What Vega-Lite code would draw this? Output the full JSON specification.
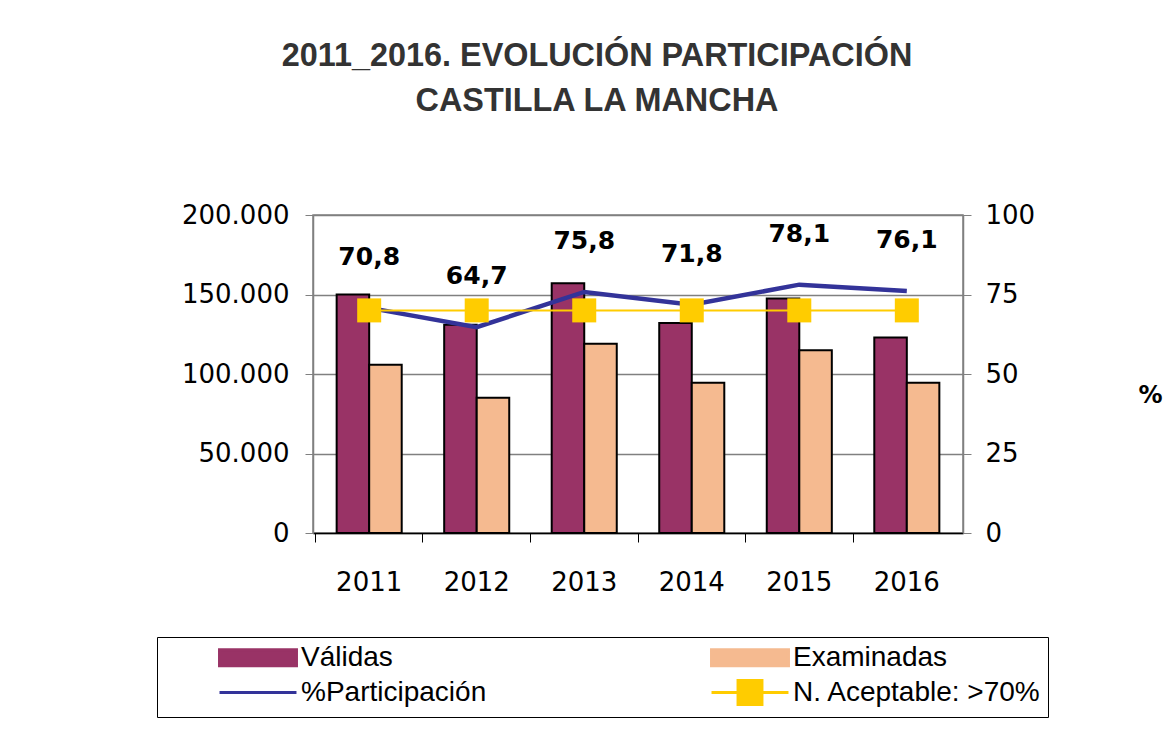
{
  "$schema": "https://vega.github.io/schema/vega-lite/v6.json",
  "width": 650,
  "height": 318,
  "autosize": {"type": "none"},
  "padding": {"left": 313, "top": 215, "right": 210, "bottom": 203},
  "background": "white",
  "config": {
    "locale": {"number": {"decimal": ",", "thousands": ".", "grouping": [3], "currency": ["", " €"]}},
    "view": {"stroke": "#808080", "strokeWidth": 1.5},
    "axis": {"labelFont": "DejaVu Sans", "labelFontSize": 26, "labelColor": "black"},
    "legend": {"symbolOpacity": 1}
  },
  "title": {
    "text": ["2011_2016. EVOLUCIÓN PARTICIPACIÓN", "CASTILLA LA MANCHA"],
    "font": "Liberation Sans",
    "fontSize": 32.4,
    "fontWeight": "bold",
    "color": "#333333",
    "lineHeight": 45,
    "anchor": "middle",
    "frame": "group",
    "dx": -41,
    "offset": 85
  },
  "datasets": {
    "barras": [
      {"año": "2011", "serie": "Válidas", "valor": 150000},
      {"año": "2011", "serie": "Examinadas", "valor": 105800},
      {"año": "2012", "serie": "Válidas", "valor": 131000},
      {"año": "2012", "serie": "Examinadas", "valor": 85000},
      {"año": "2013", "serie": "Válidas", "valor": 157000},
      {"año": "2013", "serie": "Examinadas", "valor": 119000},
      {"año": "2014", "serie": "Válidas", "valor": 132000},
      {"año": "2014", "serie": "Examinadas", "valor": 94500},
      {"año": "2015", "serie": "Válidas", "valor": 147500},
      {"año": "2015", "serie": "Examinadas", "valor": 115000},
      {"año": "2016", "serie": "Válidas", "valor": 123000},
      {"año": "2016", "serie": "Examinadas", "valor": 94500}
    ],
    "lineas": [
      {"año": "2011", "participacion": 70.8, "aceptable": 70},
      {"año": "2012", "participacion": 64.7, "aceptable": 70},
      {"año": "2013", "participacion": 75.8, "aceptable": 70},
      {"año": "2014", "participacion": 71.8, "aceptable": 70},
      {"año": "2015", "participacion": 78.1, "aceptable": 70},
      {"año": "2016", "participacion": 76.1, "aceptable": 70}
    ]
  },
  "encoding": {
    "x": {
      "field": "año", "type": "nominal",
      "scale": {"paddingInner": 0.395, "paddingOuter": 0.22},
      "axis": {
        "title": null, "labelAngle": 0, "domainColor": "black", "domainWidth": 1.5,
        "tickColor": "black", "tickSize": 9, "bandPosition": -0.326,
        "labelPadding": 27, "labelBaseline": "top"
      }
    }
  },
  "resolve": {"scale": {"y": "independent"}},
  "layer": [
    {
      "data": {"name": "barras"},
      "mark": {"type": "bar", "stroke": "black", "strokeWidth": 2},
      "encoding": {
        "xOffset": {"field": "serie", "type": "nominal", "sort": ["Válidas", "Examinadas"], "scale": {"paddingInner": 0, "paddingOuter": 0}},
        "y": {
          "field": "valor", "type": "quantitative",
          "scale": {"domain": [0, 200000], "nice": false},
          "axis": {
            "title": null, "orient": "left", "values": [0, 50000, 100000, 150000, 200000],
            "format": ",.0f", "grid": true, "gridColor": "#808080", "gridWidth": 1.5,
            "domainColor": "#808080", "domainWidth": 1.5, "tickColor": "#808080", "tickSize": 8,
            "labelPadding": 16
          }
        },
        "color": {
          "field": "serie", "type": "nominal",
          "scale": {
            "domain": ["Válidas", "Examinadas", "%Participación", "N. Aceptable: >70%"],
            "range": ["#993366", "#F5BA90", "#333399", "#FFCC00"]
          },
          "legend": {
            "title": null, "orient": "none", "legendX": -156, "legendY": 422,
            "direction": "horizontal", "columns": 2, "columnPadding": 168, "rowPadding": 2,
            "padding": 6, "strokeColor": "black", "fillColor": "white",
            "symbolOffset": 80.5, "symbolSize": 676, "symbolStrokeWidth": 3, "symbolOpacity": 1, "labelOffset": 28.5,
            "labelFont": "Liberation Sans", "labelFontSize": 28, "labelColor": "black", "labelLimit": 400
          }
        }
      }
    },
    {
      "data": {"name": "barras"},
      "mark": {"type": "point", "filled": true, "opacity": 0},
      "encoding": {
        "color": {"field": "serie", "type": "nominal"},
        "shape": {
          "field": "serie", "type": "nominal",
          "scale": {
            "domain": ["Válidas", "Examinadas", "%Participación", "N. Aceptable: >70%"],
            "range": ["M-2.96,-0.62L2.96,-0.62L2.96,0.62L-2.96,0.62Z", "M-2.96,-0.62L2.96,-0.62L2.96,0.62L-2.96,0.62Z", "M-2.96,0L2.96,0", "M-2.96,0L2.96,0M-0.92,-0.92L0.92,-0.92L0.92,0.92L-0.92,0.92Z"]
          },
          "legend": {
            "title": null, "orient": "none", "legendX": -156, "legendY": 422,
            "direction": "horizontal", "columns": 2, "columnPadding": 168, "rowPadding": 2,
            "padding": 6, "strokeColor": "black", "fillColor": "white",
            "symbolOffset": 80.5, "symbolSize": 676, "symbolStrokeWidth": 3, "symbolOpacity": 1, "labelOffset": 28.5,
            "labelFont": "Liberation Sans", "labelFontSize": 28, "labelColor": "black", "labelLimit": 400
          }
        }
      }
    },
    {
      "data": {"name": "lineas"},
      "encoding": {
        "y": {
          "field": "participacion", "type": "quantitative",
          "scale": {"domain": [0, 100], "nice": false},
          "axis": {
            "title": "%", "orient": "right", "values": [0, 25, 50, 75, 100], "grid": false,
            "domainColor": "#808080", "domainWidth": 1.5, "tickColor": "#808080", "tickSize": 8,
            "labelPadding": 14,
            "titleAngle": 0, "titleFont": "DejaVu Sans", "titleFontSize": 24, "titleFontWeight": "bold",
            "titleColor": "black", "titleX": 187, "titleY": 180, "titleAlign": "center", "titleBaseline": "middle"
          }
        }
      },
      "layer": [
        {
          "mark": {"type": "line", "strokeWidth": 4.5},
          "encoding": {
            "color": {"datum": "%Participación"}
          }
        },
        {
          "mark": {"type": "line", "strokeWidth": 2, "point": {"shape": "square", "size": 576, "filled": true, "opacity": 1}},
          "encoding": {
            "y": {"field": "aceptable", "type": "quantitative"},
            "color": {"datum": "N. Aceptable: >70%"}
          }
        },
        {
          "mark": {"type": "text", "font": "DejaVu Sans", "fontSize": 25, "fontWeight": "bold", "color": "black", "dy": -51, "baseline": "middle"},
          "encoding": {
            "text": {"field": "participacion", "type": "quantitative", "format": ".1f"}
          }
        }
      ]
    }
  ]
}
